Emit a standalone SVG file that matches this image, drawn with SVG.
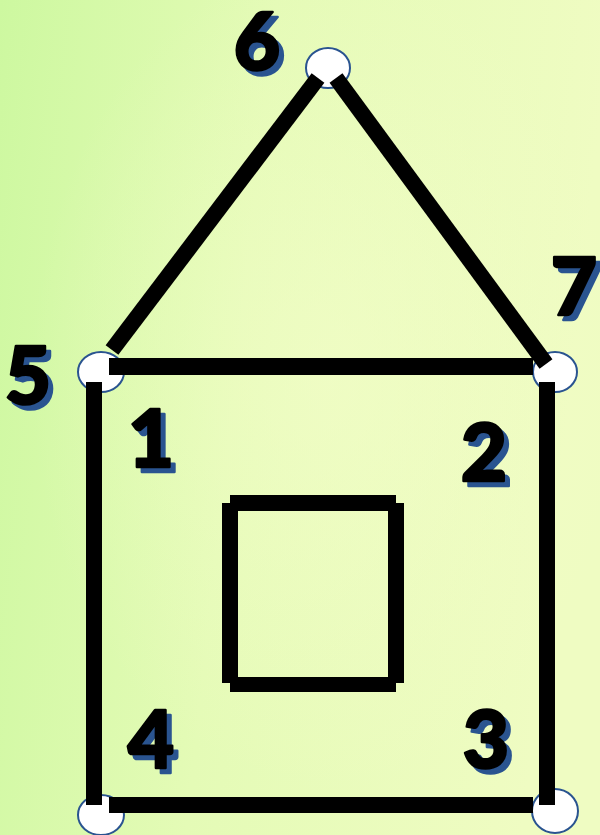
<svg xmlns="http://www.w3.org/2000/svg" width="600" height="835" viewBox="0 0 600 835">
<defs>
<linearGradient id="bg" x1="0" y1="0" x2="1" y2="0.15">
<stop offset="0" stop-color="#cdf8a0"/>
<stop offset="0.45" stop-color="#e4fbb6"/>
<stop offset="1" stop-color="#effcc2"/>
</linearGradient>
<radialGradient id="glow" cx="0.55" cy="0.45" r="0.5">
<stop offset="0" stop-color="#f4fdca" stop-opacity="0.6"/>
<stop offset="1" stop-color="#f4fdca" stop-opacity="0"/>
</radialGradient>
</defs>
<style>
.node{fill:#ffffff;stroke:#2a5490;stroke-width:2}
.edge{stroke:#000;stroke-width:16;stroke-linecap:butt;fill:none}
.bar{fill:#000}
.lbl{font-family:Lato,"DejaVu Sans",sans-serif;font-weight:900;font-size:80px;text-anchor:middle;stroke-width:2.5;stroke-linejoin:round}
.sh{fill:#2a5490;stroke:#2a5490}
.fg{fill:#000;stroke:#000}
</style>
<rect width="600" height="835" fill="url(#bg)"/>
<rect width="600" height="835" fill="url(#glow)"/>

<g id="nodes">
<g id="n6"><ellipse class="node" cx="328" cy="68" rx="22" ry="20"/>
<text class="lbl sh" x="262" y="75">6</text><text class="lbl fg" x="257" y="70">6</text></g>
<g id="n5"><ellipse class="node" cx="101" cy="372" rx="23" ry="20"/>
<text class="lbl sh" x="33" y="409">5</text><text class="lbl fg" x="28" y="404">5</text></g>
<g id="n7"><ellipse class="node" cx="555" cy="372" rx="22" ry="20"/>
<text class="lbl sh" x="579" y="320">7</text><text class="lbl fg" x="574" y="315">7</text></g>
<g id="n4"><ellipse class="node" cx="101" cy="815" rx="23" ry="20"/>
<text class="lbl sh" x="156" y="773">4</text><text class="lbl fg" x="151" y="768">4</text></g>
<g id="n3"><ellipse class="node" cx="555" cy="811" rx="23" ry="22"/>
<text class="lbl sh" x="491" y="773">3</text><text class="lbl fg" x="486" y="768">3</text></g>
<g id="l1"><text class="lbl sh" x="156" y="472">1</text><text class="lbl fg" x="151" y="467">1</text></g>
<g id="l2"><text class="lbl sh" x="489" y="486">2</text><text class="lbl fg" x="484" y="481">2</text></g>
</g>

<g id="connectors">
<line class="edge" x1="112" y1="350" x2="318" y2="78"/>
<line class="edge" x1="336" y1="78" x2="546" y2="364"/>
<rect class="bar" x="109" y="358" width="424" height="17"/>
<rect class="bar" x="86" y="382" width="16" height="423"/>
<rect class="bar" x="539" y="382" width="16" height="423"/>
<rect class="bar" x="109" y="797" width="424" height="16"/>
</g>

<g id="window">
<rect class="bar" x="230" y="495" width="166" height="16"/>
<rect class="bar" x="230" y="677" width="166" height="15"/>
<rect class="bar" x="222" y="503" width="16" height="180"/>
<rect class="bar" x="388" y="503" width="16" height="180"/>
</g>
</svg>
